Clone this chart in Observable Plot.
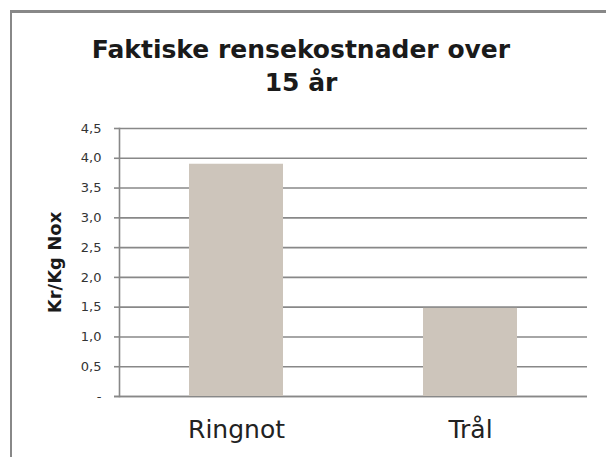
<!DOCTYPE html>
<html>
<head>
<meta charset="utf-8">
<script src="https://cdn.jsdelivr.net/npm/d3@7"></script>
<script src="https://cdn.jsdelivr.net/npm/@observablehq/plot@0.6"></script>
<style>
  html, body { margin: 0; padding: 0; background: #fff; overflow: hidden; width: 606px; height: 457px; }
  .edge { position: absolute; background: #888888; z-index: 10; pointer-events: none; }
  #edgeTop { left: 10px; top: 10px; width: 596px; height: 3px; }
  #edgeLeft { left: 10px; top: 10px; width: 2px; height: 447px; }
  #title { position: absolute; left: 0; top: 33px; width: 602px; text-align: center;
    font-family: "DejaVu Sans", Verdana, sans-serif; font-weight: bold; font-size: 25px; line-height: 33px; color: #1a1a1a; z-index: 5; }
  #chart { position: absolute; left: 0; top: 0; z-index: 1; }
</style>
</head>
<body>
<div id="chart"></div>
<div id="title">Faktiske rensekostnader over<br>15 år</div>
<div class="edge" id="edgeTop"></div>
<div class="edge" id="edgeLeft"></div>
<script>
const categories = ["Ringnot", "Trål"];
const values = [3.9, 1.48];
const yTicks = [0, 0.5, 1.0, 1.5, 2.0, 2.5, 3.0, 3.5, 4.0, 4.5];
const yLabel = "Kr/Kg Nox";

const data = categories.map((c, i) => ({category: c, value: values[i]}));
const fmt = d => d === 0 ? "-" : d.toFixed(1).replace(".", ",");

const chart = Plot.plot({
  width: 606,
  height: 457,
  marginLeft: 119,
  marginRight: 19,
  marginTop: 128,
  marginBottom: 61,
  style: {fontFamily: "'DejaVu Sans', Verdana, sans-serif", background: "transparent", overflow: "visible"},
  x: {domain: categories, paddingInner: 0.6, paddingOuter: 0.3},
  y: {domain: [0, 4.5]},
  marks: [
    Plot.ruleY(yTicks, {stroke: "#888888", strokeWidth: 1.6, strokeOpacity: 1}),
    Plot.ruleY([0], {stroke: "#888888", strokeWidth: 1.6, insetLeft: -5}),
    Plot.barY(data, {x: "category", y: "value", fill: "#cdc5bb"}),
    Plot.axisY({ticks: yTicks, tickFormat: fmt, tickSize: 5, tickPadding: 13, fontSize: 13, stroke: "#888888", strokeWidth: 1.6, strokeOpacity: 1, color: "#333", label: null}),
    Plot.frame({anchor: "left", stroke: "#888888", strokeWidth: 1.6}),
    Plot.axisX({tickSize: 0, tickPadding: 24, fontSize: 25, color: "#222", label: null}),
    Plot.text([yLabel], {frameAnchor: "left", textAnchor: "middle", dx: -64, rotate: -90, fontSize: 18, fontWeight: "bold", fill: "#1a1a1a"})
  ]
});
document.getElementById("chart").append(chart);
</script>
</body>
</html>
